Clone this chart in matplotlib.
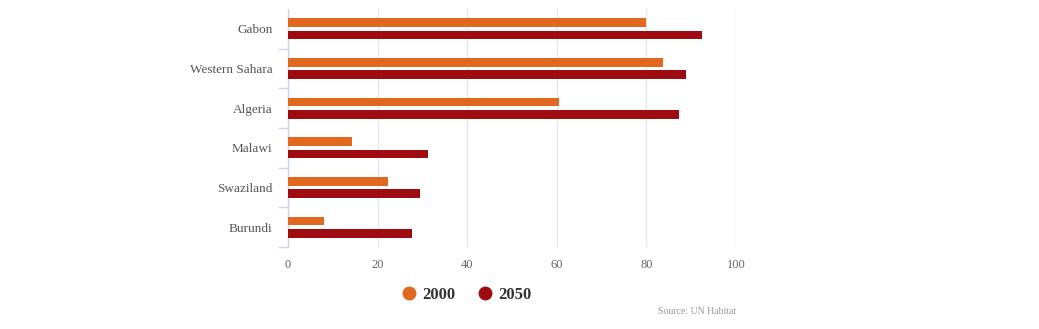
import numpy as np
import matplotlib.pyplot as plt
from matplotlib.lines import Line2D

countries = ["Gabon", "Western Sahara", "Algeria", "Malawi", "Swaziland", "Burundi"]
urban_2000 = [80.0, 83.7, 60.5, 14.3, 22.3, 8.0]
urban_2050 = [92.4, 88.8, 87.3, 31.3, 29.5, 27.7]
x_ticks = [0, 20, 40, 60, 80, 100]

orange = "#E0681F"
red = "#9E0B11"
axis_col = "#CCD6EB"

plt.rcParams["font.family"] = ["Liberation Serif", "DejaVu Serif"]

fig = plt.figure(figsize=(10.39, 3.29), dpi=100)
ax = fig.add_axes([288 / 1039, 1 - 247 / 329, 448 / 1039, 238 / 329])

y = np.arange(len(countries))
h = 0.22
ax.barh(y - 0.155, urban_2000, height=h, color=orange, zorder=3)
ax.barh(y + 0.155, urban_2050, height=h, color=red, zorder=3)

ax.set_xlim(0, 100)
ax.set_ylim(len(countries) - 0.5, -0.5)
ax.set_xticks(x_ticks)
ax.set_xticklabels([str(t) for t in x_ticks])
ax.grid(axis="x", color="#E6E6E6", linewidth=1, zorder=0)

for s in ["top", "right", "bottom"]:
    ax.spines[s].set_visible(False)
ax.spines["left"].set_color(axis_col)
ax.spines["left"].set_linewidth(1)

ax.tick_params(axis="x", length=0, pad=9, labelsize=9, labelcolor="#666666")
# category labels in the middle, tick marks at the band edges
ax.set_yticks(y)
ax.set_yticklabels(countries)
ax.tick_params(axis="y", which="major", length=0, pad=11, labelsize=9.5, labelcolor="#555555")
ax.set_yticks(np.arange(len(countries)) + 0.5, minor=True)
ax.tick_params(axis="y", which="minor", length=7.2, color=axis_col, width=1)

handles = [
    Line2D([], [], marker="o", linestyle="none", color=orange, markersize=9, label="2000"),
    Line2D([], [], marker="o", linestyle="none", color=red, markersize=9, label="2050"),
]
fig.legend(handles=handles, loc="center", bbox_to_anchor=(466 / 1039, 1 - 295 / 329),
           ncol=2, frameon=False, handlelength=1.0, handletextpad=0.3, columnspacing=1.24,
           prop={"weight": "bold", "size": 12}, labelcolor="#333333")

fig.text(736 / 1039, 1 - 311 / 329, "Source: UN Habitat", ha="right", va="center",
         fontsize=7, color="#999999")

fig.savefig("out.png", dpi=100)
